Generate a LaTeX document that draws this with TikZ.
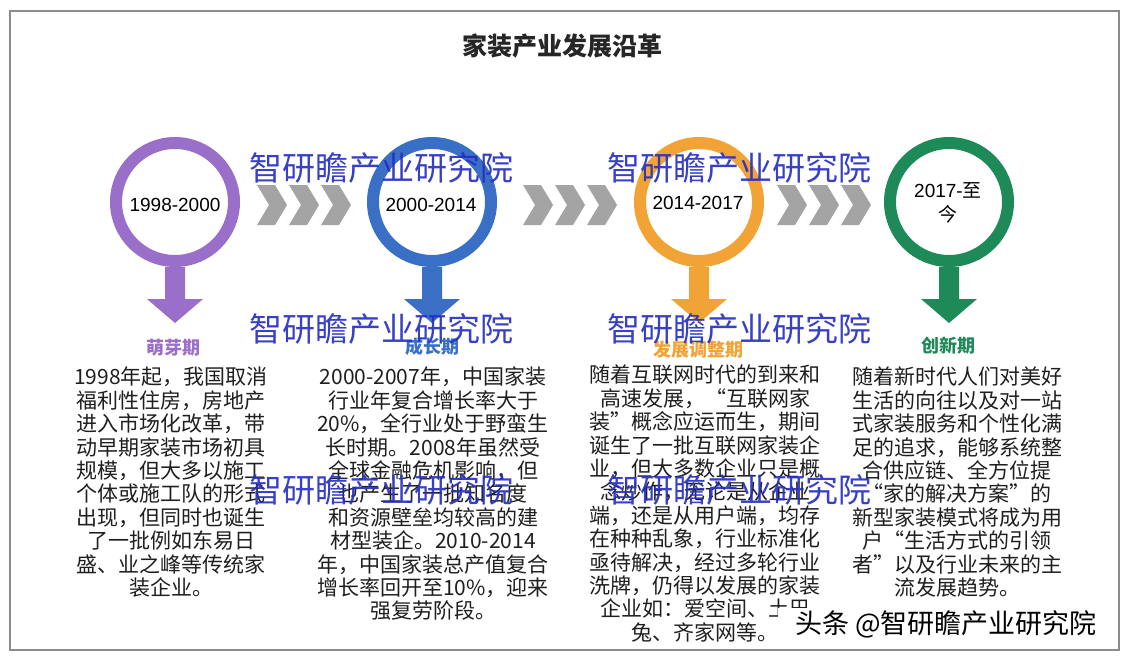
\documentclass[tikz,border=0pt]{standalone}
\usepackage{fontspec}
\newfontfamily\cjk{Noto Sans CJK SC}
\newfontfamily\arialf{Liberation Sans}
\definecolor{cpurple}{HTML}{9A6FC9}
\definecolor{cblue}{HTML}{3A6FC6}
\definecolor{corange}{HTML}{F2A336}
\definecolor{cgreen}{HTML}{1E8A58}
\definecolor{cgray}{HTML}{A4A4A4}
\definecolor{wmblue}{HTML}{2630C2}
\definecolor{framegray}{HTML}{8C8C8C}
\begin{document}
\begin{tikzpicture}[x=1pt,y=-1pt,
  ring/.style={circle, line width=12pt, minimum size=118pt, inner sep=0pt, fill=white},
  yeartext/.style={font=\arialf\fontsize{19}{22}\selectfont, text=black, inner sep=0pt, align=center},
  phasetitle/.style={font=\cjk\bfseries\fontsize{18}{20}\selectfont, inner sep=0pt},
  bodytext/.style={align=center, inner sep=0pt, anchor=north, text=black!88, font=\cjk\fontsize{21}{23.4}\selectfont},
  wmark/.style={text=wmblue, opacity=0.92, font=\cjk\fontsize{33}{36}\selectfont, inner sep=0pt},
  chev/.style={fill=cgray}
]
\useasboundingbox (0,0) rectangle (1124,662);
\fill[white] (0,0) rectangle (1124,662);
\draw[framegray, line width=1.5pt] (10,11) rectangle (1119,650);

\node[font=\cjk\bfseries\fontsize{25}{28}\selectfont, text=black!85] (title) at (562,46) {家装产业发展沿革};

% chevrons
\foreach \x in {257,289,321,523,555,587,777,809,841}
  \fill[chev] (\x,185) -- ++(18,0) -- ++(12,20) -- ++(-12,20) -- ++(-18,0) -- ++(12,-20) -- cycle;

% rings
\node[ring, draw=cpurple] (c1) at (175,202) {};
\node[ring, draw=cblue]   (c2) at (432,202) {};
\node[ring, draw=corange] (c3) at (699,202) {};
\node[ring, draw=cgreen]  (c4) at (949,202) {};

\foreach \c/\col in {c1/cpurple, c2/cblue, c3/corange, c4/cgreen}
  \fill[\col, shift={(\c.south)}] (-10,0) -- (10,0) -- (10,32) -- (28,32) -- (0,56) -- (-28,32) -- (-10,32) -- cycle;

\node[yeartext] (y1) at (175,205) {1998-2000};
\node[yeartext] (y2) at (431,205) {2000-2014};
\node[yeartext] (y3) at (698,203) {2014-2017};
\node[yeartext] (y4a) at (948,190) {2017-{\cjk 至}};
\node[yeartext] (y4b) at (948,214) {\cjk 今};

% phase titles
\node[phasetitle, text=cpurple] (t1) at (173,348) {萌芽期};
\node[phasetitle, text=cblue]   (t2) at (432,347) {成长期};
\node[phasetitle, text=corange] (t3) at (698,350) {发展调整期};
\node[phasetitle, text=cgreen]  (t4) at (948,346) {创新期};

% body texts
\node[bodytext] (b1) at (171,367) {1998年起，我国取消\\福利性住房，房地产\\进入市场化改革，带\\动早期家装市场初具\\规模，但大多以施工\\个体或施工队的形式\\出现，但同时也诞生\\了一批例如东易日\\盛、业之峰等传统家\\装企业。};
\node[bodytext] (b2) at (433,367) {2000-2007年，中国家装\\行业年复合增长率大于\\20\%，全行业处于野蛮生\\长时期。2008年虽然受\\全球金融危机影响，但\\也产生了一批知名度\\和资源壁垒均较高的建\\材型装企。2010-2014\\年，中国家装总产值复合\\增长率回开至10\%，迎来\\强复劳阶段。};
\node[bodytext] (b3) at (705,365) {随着互联网时代的到来和\\高速发展，“互联网家\\装”概念应运而生，期间\\诞生了一批互联网家装企\\业，但大多数企业只是概\\念炒作，无论是从企业\\端，还是从用户端，均存\\在种种乱象，行业标准化\\亟待解决，经过多轮行业\\洗牌，仍得以发展的家装\\企业如：爱空间、土巴\\兔、齐家网等。};
\node[bodytext] (b4) at (957,367) {随着新时代人们对美好\\生活的向往以及对一站\\式家装服务和个性化满\\足的追求，能够系统整\\合供应链、全方位提\\“家的解决方案”的\\新型家装模式将成为用\\户“生活方式的引领\\者”以及行业未来的主\\流发展趋势。};

% watermarks
\node[wmark] (w1) at (381,168) {智研瞻产业研究院};
\node[wmark] (w2) at (739,168) {智研瞻产业研究院};
\node[wmark] (w3) at (381,329) {智研瞻产业研究院};
\node[wmark] (w4) at (739,329) {智研瞻产业研究院};
\node[wmark] (w5) at (381,490) {智研瞻产业研究院};
\node[wmark] (w6) at (739,490) {智研瞻产业研究院};

% bottom-right badge
\fill[white] (778,608) rectangle (1116,648);
\node[font=\cjk\fontsize{27}{30}\selectfont, text=black, inner sep=0pt] (badge) at (946,624) {头条 @智研瞻产业研究院};
\end{tikzpicture}
\end{document}
